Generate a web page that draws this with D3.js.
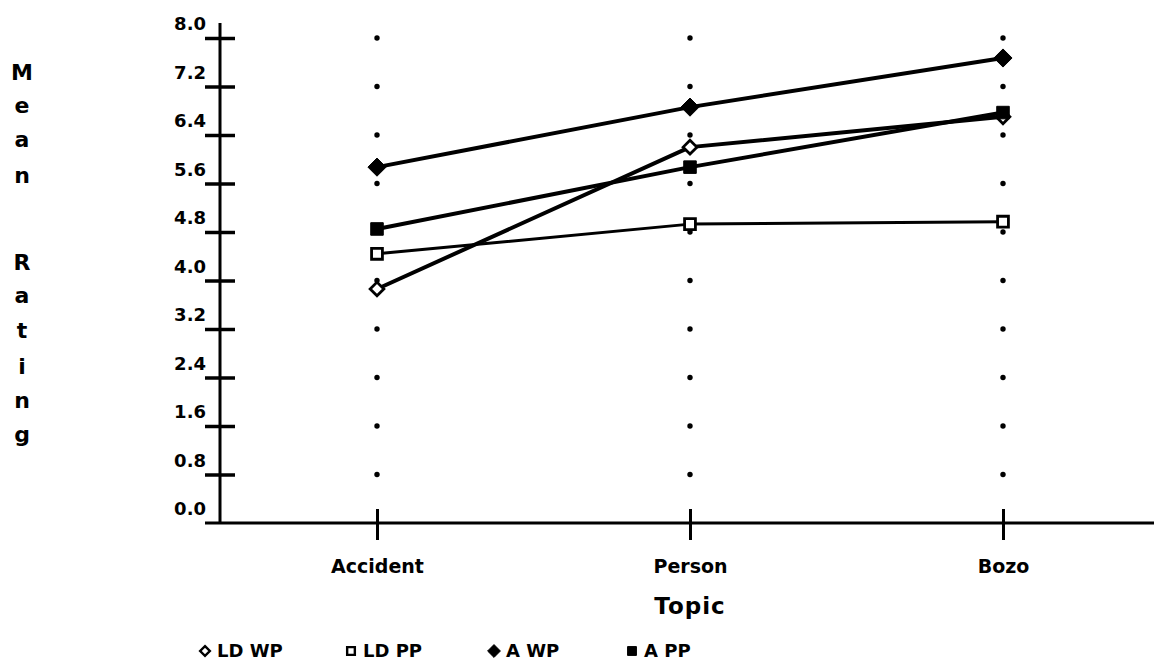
<!DOCTYPE html>
<html>
<head>
<meta charset="utf-8">
<script src="https://cdn.jsdelivr.net/npm/d3@7"></script>
<style>
  body { margin: 0; background: #fff; }
  svg { display: block; font-family: "DejaVu Sans", sans-serif; font-weight: bold; }
</style>
</head>
<body>
<svg width="1154" height="664"></svg>
<script>
// data
var topics = ["Accident", "Person", "Bozo"];
var yTicks = [0, 0.8, 1.6, 2.4, 3.2, 4.0, 4.8, 5.6, 6.4, 7.2, 8.0];
var seriesNames = ["LD WP", "LD PP", "A WP", "A PP"];
var ldWP = [3.86, 6.20, 6.70];
var ldPP = [4.44, 4.93, 4.97];
var aWP = [5.87, 6.86, 7.67];
var aPP = [4.85, 5.87, 6.77];

var seriesValues = [ldWP, ldPP, aWP, aPP];

var svg = d3.select("svg");

var x = d3.scalePoint()
    .domain(topics)
    .range([377, 1003]);

var y = d3.scaleLinear()
    .domain([0, 8])
    .range([523, 38]);

/* markers: symbol + fill per serie */
var markers = [
  {type: d3.symbolDiamond2, size: 120, fill: "#fff"},
  {type: d3.symbolSquare2, size: 150, fill: "#fff"},
  {type: d3.symbolDiamond2, size: 210, fill: "#000"},
  {type: d3.symbolSquare2, size: 200, fill: "#000"}
];
var lineWidths = [4, 3, 4, 4];

/* dotted columns at each topic */
var dotLevels = yTicks.filter(function(d) { return d > 0; });
topics.forEach(function(t) {
  svg.append("g").selectAll("circle")
    .data(dotLevels)
    .enter().append("circle")
      .attr("cx", x(t))
      .attr("cy", function(d) { return y(d); })
      .attr("r", 2.7)
      .attr("fill", "#000");
});

/* y axis */
var yAxis = svg.append("g")
    .attr("transform", "translate(220,0)")
    .call(d3.axisLeft(y).tickValues(yTicks).tickSize(0).tickFormat(d3.format(".1f")));
yAxis.select(".domain").remove();
yAxis.append("line")
    .attr("x1", 0).attr("x2", 0)
    .attr("y1", 23).attr("y2", y(0))
    .attr("stroke", "#000").attr("stroke-width", 3);
yAxis.selectAll(".tick line")
    .attr("x1", -15).attr("x2", 15)
    .attr("stroke", "#000").attr("stroke-width", 3.5);
yAxis.selectAll(".tick").filter(function(d) { return d === 0; }).select("line").remove();
yAxis.selectAll(".tick text")
    .attr("x", -14)
    .attr("dy", "-0.45em")
    .attr("font-size", 18)
    .attr("font-family", "DejaVu Sans")
    .attr("font-weight", "bold")
    .attr("fill", "#000");

/* x axis */
var xAxis = svg.append("g")
    .attr("transform", "translate(0," + y(0) + ")")
    .call(d3.axisBottom(x).tickSize(0));
xAxis.select(".domain").remove();
xAxis.append("line")
    .attr("x1", 205).attr("x2", 1154)
    .attr("stroke", "#000").attr("stroke-width", 3);
xAxis.selectAll(".tick line")
    .attr("y1", -14).attr("y2", 17)
    .attr("stroke", "#000").attr("stroke-width", 3);
xAxis.selectAll(".tick text")
    .attr("y", 50)
    .attr("dy", 0)
    .attr("font-size", 19)
    .attr("font-family", "DejaVu Sans")
    .attr("font-weight", "bold")
    .attr("fill", "#000");

/* axis titles */
svg.append("text")
    .attr("x", x("Person"))
    .attr("y", 614)
    .attr("text-anchor", "middle")
    .attr("font-size", 23)
    .style("letter-spacing", "1px")
    .text("Topic");

var yLetters = ["M", "e", "a", "n", "", "R", "a", "t", "i", "n", "g"];
var letterY = [80, 113, 147, 183, 0, 270, 303, 338, 374, 408, 442];
svg.append("g").selectAll("text")
    .data(yLetters)
    .enter().append("text")
      .attr("x", 22)
      .attr("y", function(d, i) { return letterY[i]; })
      .attr("text-anchor", "middle")
      .attr("font-size", 22)
      .text(function(d) { return d; });

/* series lines */
var line = d3.line()
    .x(function(d, i) { return x(topics[i]); })
    .y(function(d) { return y(d); });

seriesValues.forEach(function(vals, s) {
  svg.append("path")
      .datum(vals)
      .attr("d", line)
      .attr("fill", "none")
      .attr("stroke", "#000")
      .attr("stroke-width", lineWidths[s])
      .attr("stroke-linejoin", "round");
});

seriesValues.forEach(function(vals, s) {
  var m = markers[s];
  svg.append("g").selectAll("path")
    .data(vals)
    .enter().append("path")
      .attr("transform", function(d, i) { return "translate(" + x(topics[i]) + "," + y(d) + ")"; })
      .attr("d", d3.symbol().type(m.type).size(m.size))
      .attr("fill", m.fill)
      .attr("stroke", "#000")
      .attr("stroke-width", m.fill === "#fff" ? 2.8 : 1);
});

/* legend */
var legendX = [205, 351, 494, 632];
var legend = svg.append("g")
  .selectAll("g")
  .data(seriesNames)
  .enter().append("g")
    .attr("transform", function(d, i) { return "translate(" + legendX[i] + ",651)"; });

legend.append("path")
    .attr("d", function(d, i) { return d3.symbol().type(markers[i].type).size(markers[i].size * 0.5)(); })
    .attr("fill", function(d, i) { return markers[i].fill; })
    .attr("stroke", "#000")
    .attr("stroke-width", function(d, i) { return markers[i].fill === "#fff" ? 2.4 : 1; });

legend.append("text")
    .attr("x", 12)
    .attr("y", 6)
    .attr("font-size", 18)
    .text(function(d) { return d; });
</script>
</body>
</html>
